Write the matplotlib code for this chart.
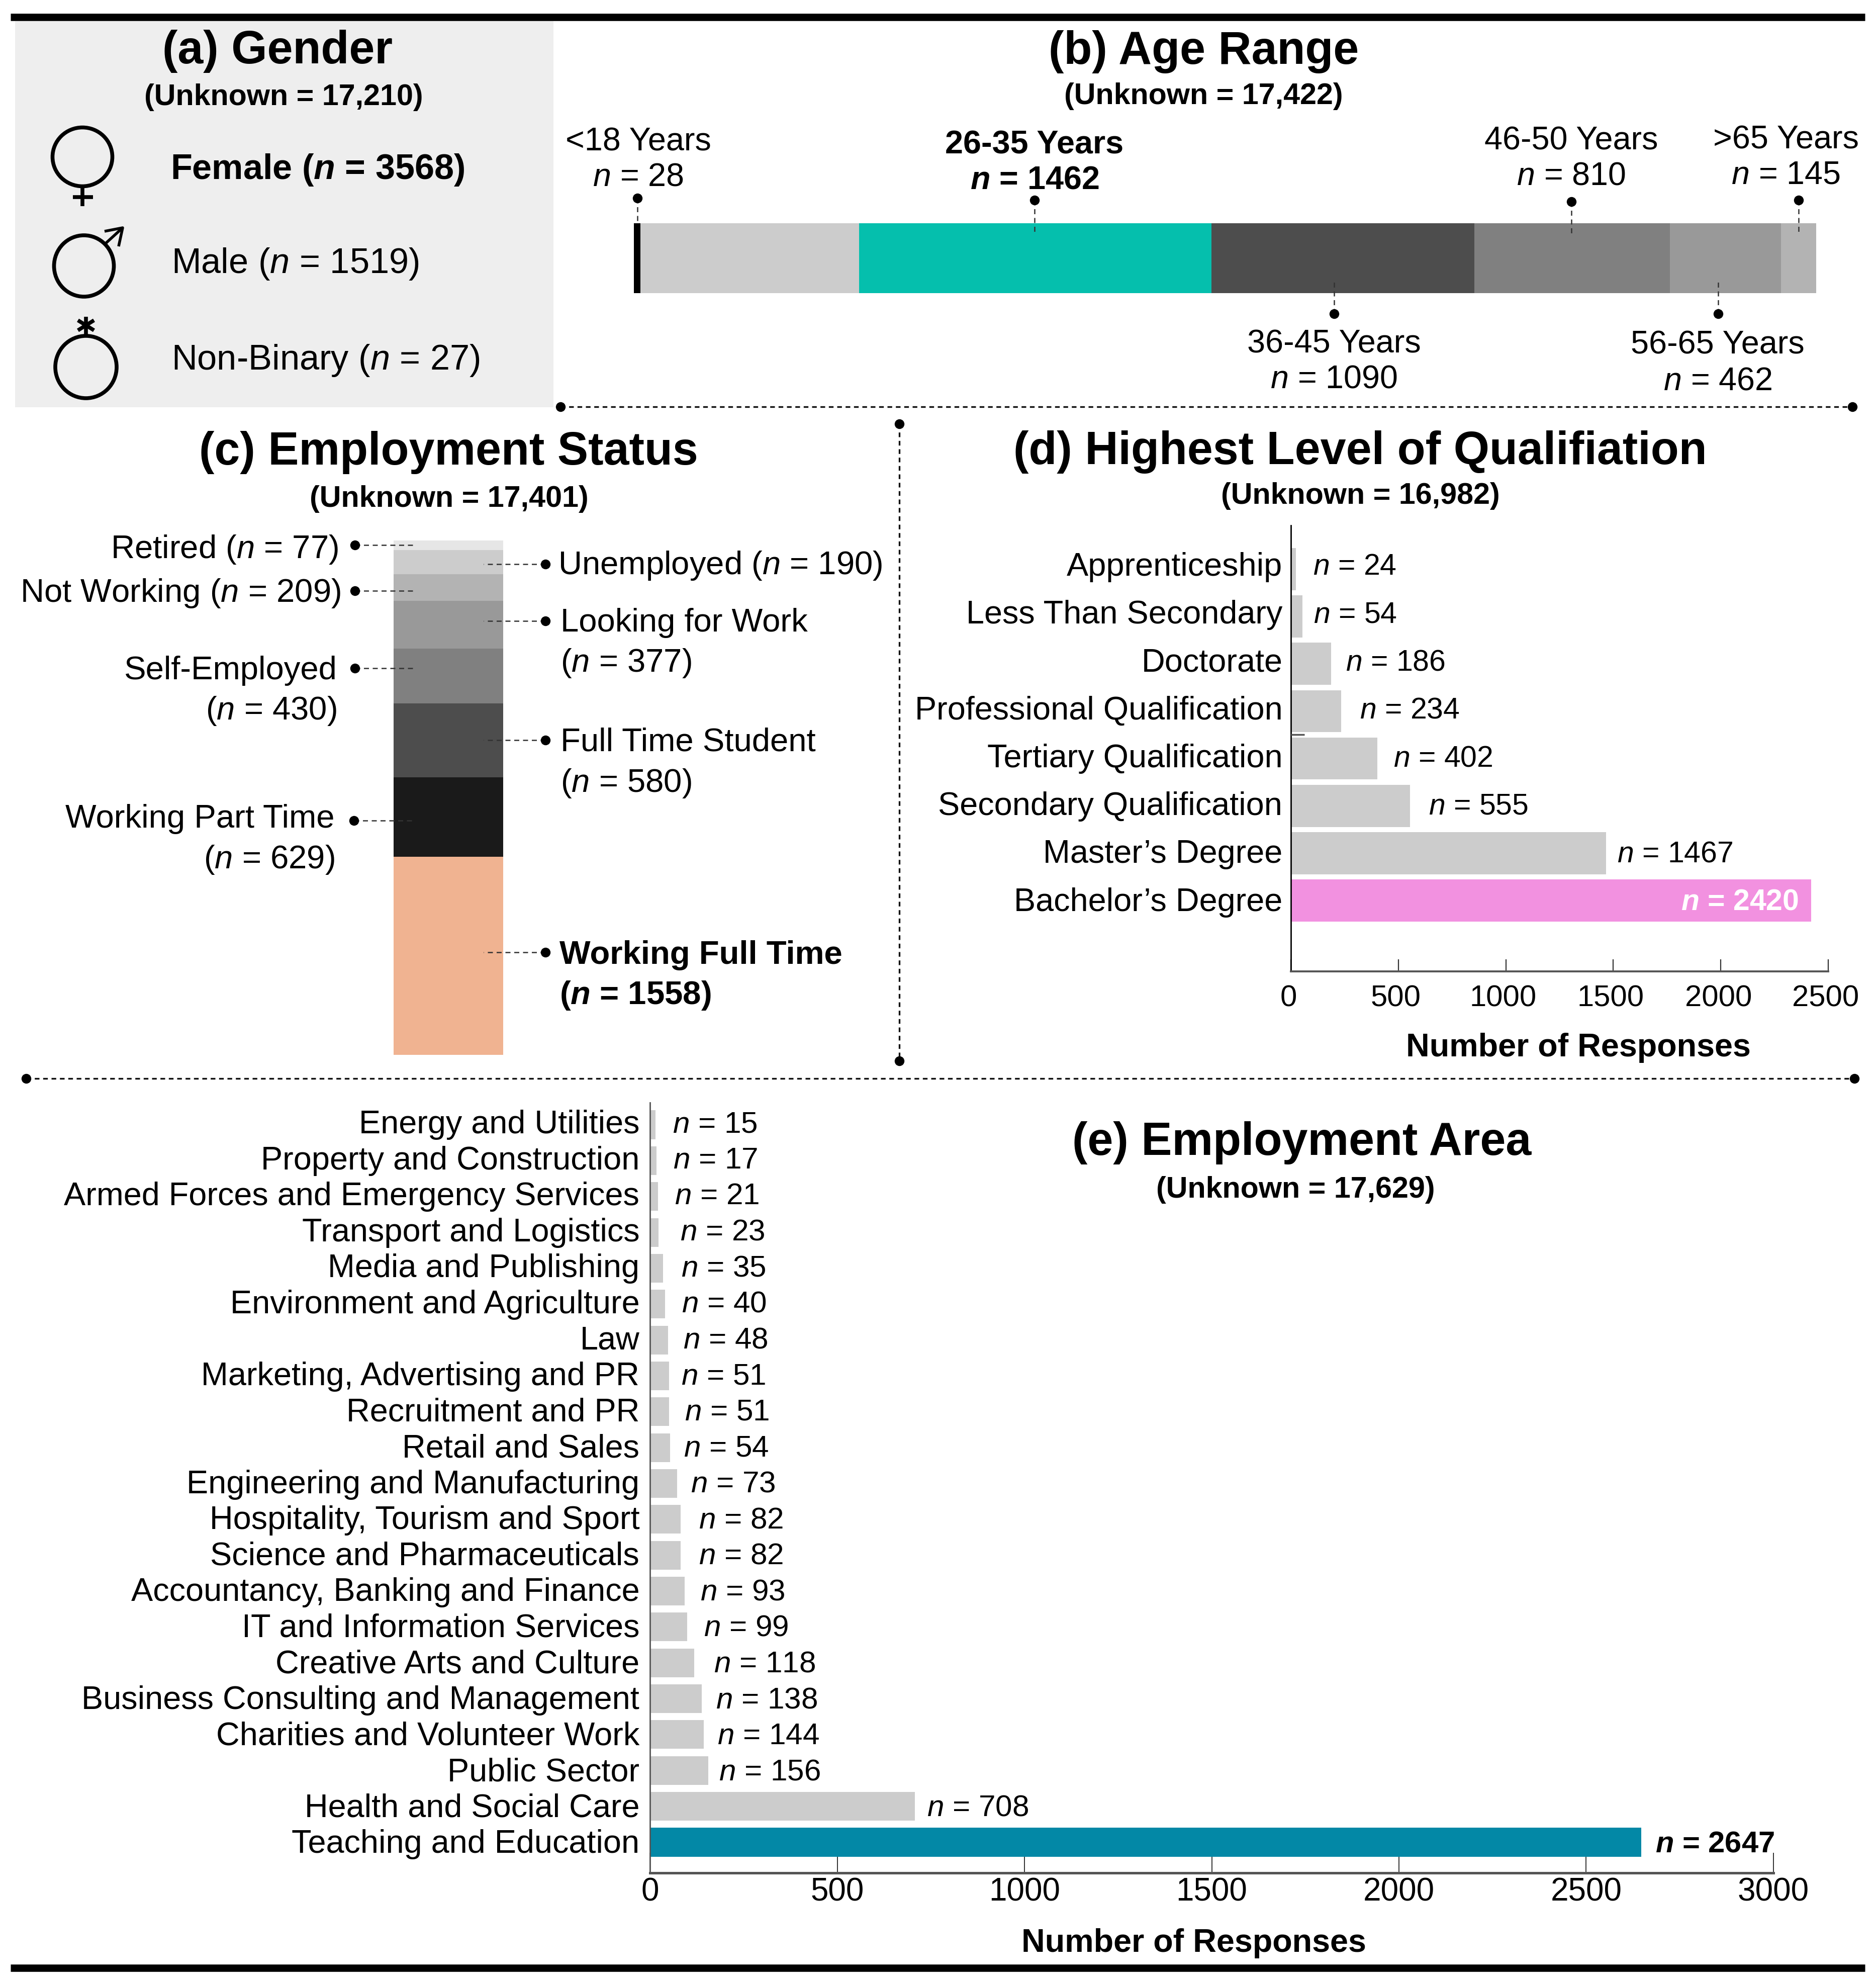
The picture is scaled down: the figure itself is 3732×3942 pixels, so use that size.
import numpy as np
import matplotlib
matplotlib.use("Agg")
import matplotlib.pyplot as plt
from matplotlib.patches import Rectangle, Ellipse
from matplotlib.transforms import ScaledTranslation

plt.rcParams['font.family'] = ['Liberation Sans', 'DejaVu Sans']
plt.rcParams['mathtext.fontset'] = 'custom'
plt.rcParams['mathtext.rm'] = 'Liberation Sans'
plt.rcParams['mathtext.it'] = 'Liberation Sans:italic'
plt.rcParams['mathtext.bf'] = 'Liberation Sans:bold'
plt.rcParams['mathtext.bfit'] = 'Liberation Sans:italic:bold'

W, H = 3732, 3942

gender_labels = ["Female", "Male", "Non-Binary"]
gender_values = [3568, 1519, 27]

age_labels = ["<18 Years", "18-25 Years", "26-35 Years", "36-45 Years", "46-50 Years", "56-65 Years", ">65 Years"]
age_values = [28, 906, 1462, 1090, 810, 462, 145]
age_colors = ["#000000", "#cccccc", "#05bfad", "#4d4d4d", "#808080", "#999999", "#b3b3b3"]

status_labels = ["Retired", "Unemployed", "Not Working", "Looking for Work", "Self-Employed",
                 "Full Time Student", "Working Part Time", "Working Full Time"]
status_values = [77, 190, 209, 377, 430, 580, 629, 1558]
status_colors = ["#e6e6e6", "#cccccc", "#b3b3b3", "#999999", "#808080", "#4d4d4d", "#1a1a1a", "#f0b391"]

qual_labels = ["Apprenticeship", "Less Than Secondary", "Doctorate", "Professional Qualification",
               "Tertiary Qualification", "Secondary Qualification", "Master\u2019s Degree", "Bachelor\u2019s Degree"]
qual_values = [24, 54, 186, 234, 402, 555, 1467, 2420]
qual_ticks = [0, 500, 1000, 1500, 2000, 2500]

area_labels = ["Energy and Utilities", "Property and Construction", "Armed Forces and Emergency Services",
               "Transport and Logistics", "Media and Publishing", "Environment and Agriculture", "Law",
               "Marketing, Advertising and PR", "Recruitment and PR", "Retail and Sales",
               "Engineering and Manufacturing", "Hospitality, Tourism and Sport", "Science and Pharmaceuticals",
               "Accountancy, Banking and Finance", "IT and Information Services", "Creative Arts and Culture",
               "Business Consulting and Management", "Charities and Volunteer Work", "Public Sector",
               "Health and Social Care", "Teaching and Education"]
area_values = [15, 17, 21, 23, 35, 40, 48, 51, 51, 54, 73, 82, 82, 93, 99, 118, 138, 144, 156, 708, 2647]
area_ticks = [0, 500, 1000, 1500, 2000, 2500, 3000]

# gap in points between bar end and its n label, the reference is not regular here
qual_gaps = [24.6, 15.6, 21, 26.4, 22.8, 26.4, 15.6]
area_gaps = [24, 24, 24, 31, 26, 24, 22, 17, 22, 19, 19, 26, 26, 22, 24, 28, 20.5, 19, 15, 17]


def nstr(v, bold=False):
    if bold:
        return r"$\mathbfit{n}$ = %d" % v
    return r"$\mathit{n}$ = %d" % v


def axes_px(x0, x1, ytop, ybot):
    return fig.add_axes([x0 / W, 1 - ybot / H, (x1 - x0) / W, (ybot - ytop) / H])


fig = plt.figure(figsize=(W / 100, H / 100), dpi=100, facecolor="white")

# overlay in pixel coordinates for titles, leaders and separators
ov = fig.add_axes([0, 0, 1, 1], zorder=10)
ov.set_xlim(0, W)
ov.set_ylim(H, 0)
ov.axis("off")


def txt(x, y, s, size=46.6, ha="center", bold=False, color="black"):
    ov.text(x, y, s, fontsize=size, ha=ha, va="baseline", color=color,
            fontweight="bold" if bold else "normal")


def leader(x0, y0, x1, y1):
    ov.plot([x0, x1], [y0, y1], color="#333333", lw=1.8, dashes=(4, 3), zorder=3)
    ov.plot([x0], [y0], "o", color="black", ms=14, mew=0, zorder=4)


def separator(x0, y0, x1, y1):
    ov.plot([x0, x1], [y0, y1], color="#111111", lw=2.4, dashes=(2.8, 2.2), zorder=3)
    ov.plot([x0, x1], [y0, y1], "o", color="black", ms=14, mew=0, zorder=4)


# rules
ov.plot([21, 3710], [34, 34], color="black", lw=10.5, solid_capstyle="butt")
ov.plot([21, 3710], [3914, 3914], color="black", lw=10.5, solid_capstyle="butt")

# (a) gender
ov.add_patch(Rectangle((30, 42), 1071, 768, facecolor="#eeeeee", edgecolor="none", zorder=0))
txt(552, 126, "(a) Gender", 66, bold=True)
txt(564, 209, "(Unknown = 17,210)", 42.7, bold=True)
txt(339, 356, "Female (%s)" % nstr(gender_values[0], True), 50.5, ha="left", bold=True)
txt(341, 543, "Male (%s)" % nstr(gender_values[1]), 50.7, ha="left")
txt(341, 735, "Non-Binary (%s)" % nstr(gender_values[2]), 50.7, ha="left")

slw = 5.5
ov.add_patch(Ellipse((164, 312), 119, 117, fill=False, edgecolor="black", lw=slw))
ov.plot([164, 164], [371, 410], color="black", lw=slw, solid_capstyle="butt")
ov.plot([145, 185], [392, 392], color="black", lw=slw, solid_capstyle="butt")
ov.add_patch(Ellipse((167, 529), 119, 122, fill=False, edgecolor="black", lw=slw))
ov.plot([208, 244], [486, 453], color="black", lw=4, solid_capstyle="butt")
ov.plot([208, 244, 236], [460, 453, 490], color="black", lw=4, solid_capstyle="butt")
ov.add_patch(Ellipse((171, 730), 122, 124, fill=False, edgecolor="black", lw=slw))
ov.plot([171, 171], [668, 630], color="black", lw=slw, solid_capstyle="butt")
ov.plot([155, 187], [637, 657], color="black", lw=slw, solid_capstyle="butt")
ov.plot([155, 187], [657, 637], color="black", lw=slw, solid_capstyle="butt")

# (b) age range
ax_age = axes_px(1261, 3613, 444, 583)
left = 0
for v, c in zip(age_values, age_colors):
    ax_age.barh(0, v, left=left, height=1, color=c, edgecolor="none")
    left += v
ax_age.set_xlim(0, sum(age_values))
ax_age.set_ylim(-0.5, 0.5)
ax_age.axis("off")

txt(2395, 127, "(b) Age Range", 66, bold=True)
txt(2394, 207, "(Unknown = 17,422)", 42.7, bold=True)

txt(1270, 300, age_labels[0])
txt(1270, 370, nstr(age_values[0]))
leader(1268, 394, 1268, 444)
txt(2058, 306, age_labels[2], bold=True)
txt(2058, 376, nstr(age_values[2], True), bold=True)
leader(2058, 398, 2058, 466)
txt(3126, 297, age_labels[4])
txt(3126, 368, nstr(age_values[4]))
leader(3126, 401, 3126, 466)
txt(3553, 295, age_labels[6])
txt(3553, 366, nstr(age_values[6]))
leader(3578, 398, 3578, 466)
txt(2654, 701, age_labels[3])
txt(2654, 771, nstr(age_values[3]))
leader(2654, 624, 2654, 556)
txt(3417, 704, age_labels[5])
txt(3417, 775, nstr(age_values[5]))
leader(3418, 624, 3418, 556)

# separators
separator(1115, 809, 3685, 809)
separator(1789, 843, 1789, 2110)
separator(52, 2145, 3689, 2145)

# (c) employment status
ax_st = axes_px(783, 1001, 1075, 2098)
bottom = 0
for v, c in zip(status_values, status_colors):
    ax_st.bar(0, v, bottom=bottom, width=1, color=c, edgecolor="none")
    bottom += v
ax_st.set_xlim(-0.5, 0.5)
ax_st.set_ylim(sum(status_values), 0)
ax_st.axis("off")

txt(892, 924, "(c) Employment Status", 66, bold=True)
txt(893, 1008, "(Unknown = 17,401)", 42.7, bold=True)

fs = 47
txt(673, 1110, "Retired (%s)" % nstr(status_values[0]), fs, ha="right")
leader(706, 1084, 824, 1084)
txt(678, 1197, "Not Working (%s)" % nstr(status_values[2]), fs, ha="right")
leader(706, 1175, 824, 1175)
txt(671, 1351, status_labels[4], fs, ha="right")
txt(670, 1431, "(%s)" % nstr(status_values[4]), fs, ha="right")
leader(706, 1329, 824, 1329)
txt(665, 1646, status_labels[6], fs, ha="right")
txt(666, 1727, "(%s)" % nstr(status_values[6]), fs, ha="right")
leader(704, 1632, 824, 1632)

txt(1110, 1142, "Unemployed (%s)" % nstr(status_values[1]), fs, ha="left")
leader(1085, 1122, 962, 1122)
txt(1115, 1256, status_labels[3], fs, ha="left")
txt(1115, 1336, "(%s)" % nstr(status_values[3]), fs, ha="left")
leader(1085, 1235, 962, 1235)
txt(1115, 1493, status_labels[5], fs, ha="left")
txt(1115, 1575, "(%s)" % nstr(status_values[5]), fs, ha="left")
leader(1085, 1472, 962, 1472)
txt(1113, 1917, status_labels[7], fs, ha="left", bold=True)
txt(1113, 1997, "(%s)" % nstr(status_values[7], True), fs, ha="left", bold=True)
leader(1085, 1894, 962, 1894)

# (d) highest qualification
ax_q = axes_px(2568, 3637, 1045, 1932)
qual_colors = ["#cccccc"] * 7 + ["#f291e0"]
qual_y = np.arange(len(qual_values))
qual_text_y = qual_y - np.linspace(0.11, 0.03, len(qual_values))
ax_q.barh(qual_y, qual_values, height=0.89, color=qual_colors, edgecolor="none")
ax_q.set_xlim(0, 2500)
ax_q.set_ylim(8.498, -0.924)
ax_q.set_yticks(qual_text_y, qual_labels, fontsize=46.6)
ax_q.set_xticks(qual_ticks)
ax_q.tick_params(axis="y", length=0, pad=12)
ax_q.tick_params(axis="x", direction="in", length=17, width=1.6, color="#333333", pad=20, labelsize=43)
ax_q.set_axisbelow(True)
for s in ["top", "right"]:
    ax_q.spines[s].set_visible(False)
ax_q.spines["left"].set_linewidth(2)
ax_q.spines["bottom"].set_linewidth(2.8)
ax_q.spines["bottom"].set_color("#555555")
ax_q.patch.set_alpha(0)
shift = ScaledTranslation(-3.6 / 72, 1 / 72, fig.dpi_scale_trans)
for lab in ax_q.get_xticklabels():
    lab.set_transform(lab.get_transform() + shift)
for i, v in enumerate(qual_values[:-1]):
    ax_q.annotate(nstr(v), (v, qual_text_y[i]), xytext=(qual_gaps[i], 0), textcoords="offset points",
                  fontsize=42.5, va="center_baseline", ha="left")
ax_q.annotate(nstr(qual_values[-1], True), (qual_values[-1], qual_text_y[-1]), xytext=(-18, 0),
              textcoords="offset points", fontsize=42.5, va="center_baseline", ha="right",
              color="white", fontweight="bold")

ov.plot([2568, 2595], [1461, 1461], color="#555555", lw=2.5, solid_capstyle="butt")
txt(2706, 923, "(d) Highest Level of Qualifiation", 66, bold=True)
txt(2706, 1002, "(Unknown = 16,982)", 42.7, bold=True)
txt(3140, 2101, "Number of Responses", 46.5, bold=True)

# (e) employment area
ax_e = axes_px(1293, 3528, 2193, 3725)
area_colors = ["#cccccc"] * 20 + ["#0388a6"]
area_y = np.arange(len(area_values))
area_text_y = area_y - np.linspace(0.09, 0.03, len(area_values))
ax_e.barh(area_y, area_values, height=0.8, color=area_colors, edgecolor="none")
ax_e.set_xlim(0, 3000)
ax_e.set_ylim(20.855, -0.617)
ax_e.set_yticks(area_text_y, area_labels, fontsize=46.6)
ax_e.set_xticks(area_ticks)
ax_e.tick_params(axis="y", length=0, pad=15)
ax_e.tick_params(axis="x", direction="in", length=29, width=1.4, color="#333333", pad=6, labelsize=46)
ax_e.set_axisbelow(True)
for s in ["top", "right"]:
    ax_e.spines[s].set_visible(False)
ax_e.spines["left"].set_linewidth(2)
ax_e.spines["left"].set_color("#555555")
ax_e.spines["bottom"].set_linewidth(3.6)
ax_e.spines["bottom"].set_color("#555555")
ax_e.patch.set_alpha(0)
for i, v in enumerate(area_values[:-1]):
    ax_e.annotate(nstr(v), (v, area_text_y[i]), xytext=(area_gaps[i], 0), textcoords="offset points",
                  fontsize=43.4, va="center_baseline", ha="left")
ax_e.annotate(nstr(area_values[-1], True), (area_values[-1], area_text_y[-1]), xytext=(20, 0),
              textcoords="offset points", fontsize=43, va="center_baseline", ha="left", fontweight="bold")

txt(2590, 2297, "(e) Employment Area", 66, bold=True)
txt(2577, 2382, "(Unknown = 17,629)", 42.7, bold=True)
txt(2375, 3882, "Number of Responses", 46.5, bold=True)

fig.savefig("out.png", dpi=100)
